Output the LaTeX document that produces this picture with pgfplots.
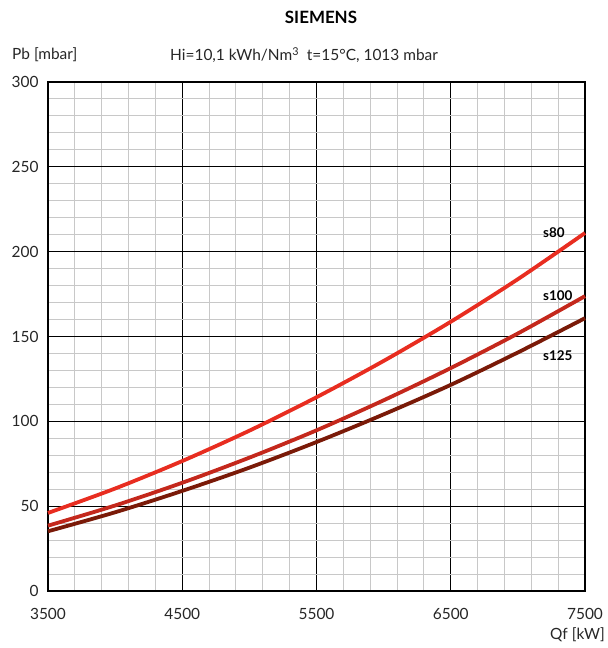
\documentclass[border=0pt]{standalone}
\usepackage{fontspec}
\setmainfont{Lato}
\usepackage{pgfplots}
\pgfplotsset{compat=1.18}
\definecolor{cA}{RGB}{232,45,32}
\definecolor{cB}{RGB}{196,40,28}
\definecolor{cC}{RGB}{122,26,8}
\definecolor{gminor}{RGB}{200,200,200}
\begin{document}
\begin{tikzpicture}
\begin{axis}[
  name=ax,
  at={(0,0)}, anchor=south west,
  scale only axis,
  width=537bp, height=509bp,
  xmin=3500, xmax=7500, ymin=0, ymax=300,
  xtick={3500,4500,5500,6500,7500},
  ytick={0,50,100,150,200,250,300},
  minor x tick num=4, minor y tick num=4,
  grid=both,
  major grid style={black, line width=0.9bp},
  minor grid style={gminor, line width=1bp},
  major tick length=0pt, minor tick length=0pt,
  axis line style={black, line width=1.3bp},
  /pgf/number format/assume math mode=true,
  /pgf/number format/set thousands separator={},
  tick label style={font=\fontsize{15.5}{18}\selectfont, text=black!85},
  xticklabel style={yshift=-14bp},
  yticklabel style={xshift=-6bp},
  clip=false,
]
\addplot[cA, line width=3.8bp, smooth] coordinates {
 (3500,46.0) (4000,60.4) (4500,76.6) (5000,94.5) (5500,114.2) (6000,135.6) (6500,158.7) (7000,183.8) (7500,211.0)};
\addplot[cB, line width=3.8bp, smooth] coordinates {
 (3500,38.5) (4000,50.4) (4500,63.8) (5000,78.6) (5500,94.7) (6000,112.4) (6500,131.4) (7000,151.8) (7500,173.8)};
\addplot[cC, line width=3.8bp, smooth] coordinates {
 (3500,35.2) (4000,46.4) (4500,59.0) (5000,72.7) (5500,87.8) (6000,104.1) (6500,121.5) (7000,140.6) (7500,160.8)};
\node[font=\bfseries\fontsize{13.5}{16}\selectfont, anchor=west, inner sep=0pt] at (axis cs:7187,211) {s80};
\node[font=\bfseries\fontsize{13.5}{16}\selectfont, anchor=west, inner sep=0pt] at (axis cs:7187,174) {s100};
\node[font=\bfseries\fontsize{13.5}{16}\selectfont, anchor=west, inner sep=0pt] at (axis cs:7187,139) {s125};
\end{axis}
\node[font=\bfseries\fontsize{17}{20}\selectfont] at ([xshift=273bp,yshift=65bp]ax.north west) {SIEMENS};
\node[anchor=west, inner sep=0pt, font=\fontsize{15.5}{18}\selectfont, text=black!85] at ([xshift=-36bp,yshift=27bp]ax.north west) {Pb [mbar]};
\node[anchor=west, inner sep=0pt, font=\fontsize{15.5}{18}\selectfont, text=black!85] at ([xshift=122bp,yshift=27bp]ax.north west) {Hi=10,1 kWh/Nm\textsuperscript{3}\ \ t=15°C, 1013 mbar};
\node[anchor=east, inner sep=0pt, font=\fontsize{15.5}{18}\selectfont, text=black!85] at ([xshift=20bp,yshift=-44bp]ax.south east) {Qf [kW]};
\path ([xshift=-48bp,yshift=-57bp]ax.south west) rectangle ([xshift=23bp,yshift=82bp]ax.north east);
\end{tikzpicture}
\end{document}
